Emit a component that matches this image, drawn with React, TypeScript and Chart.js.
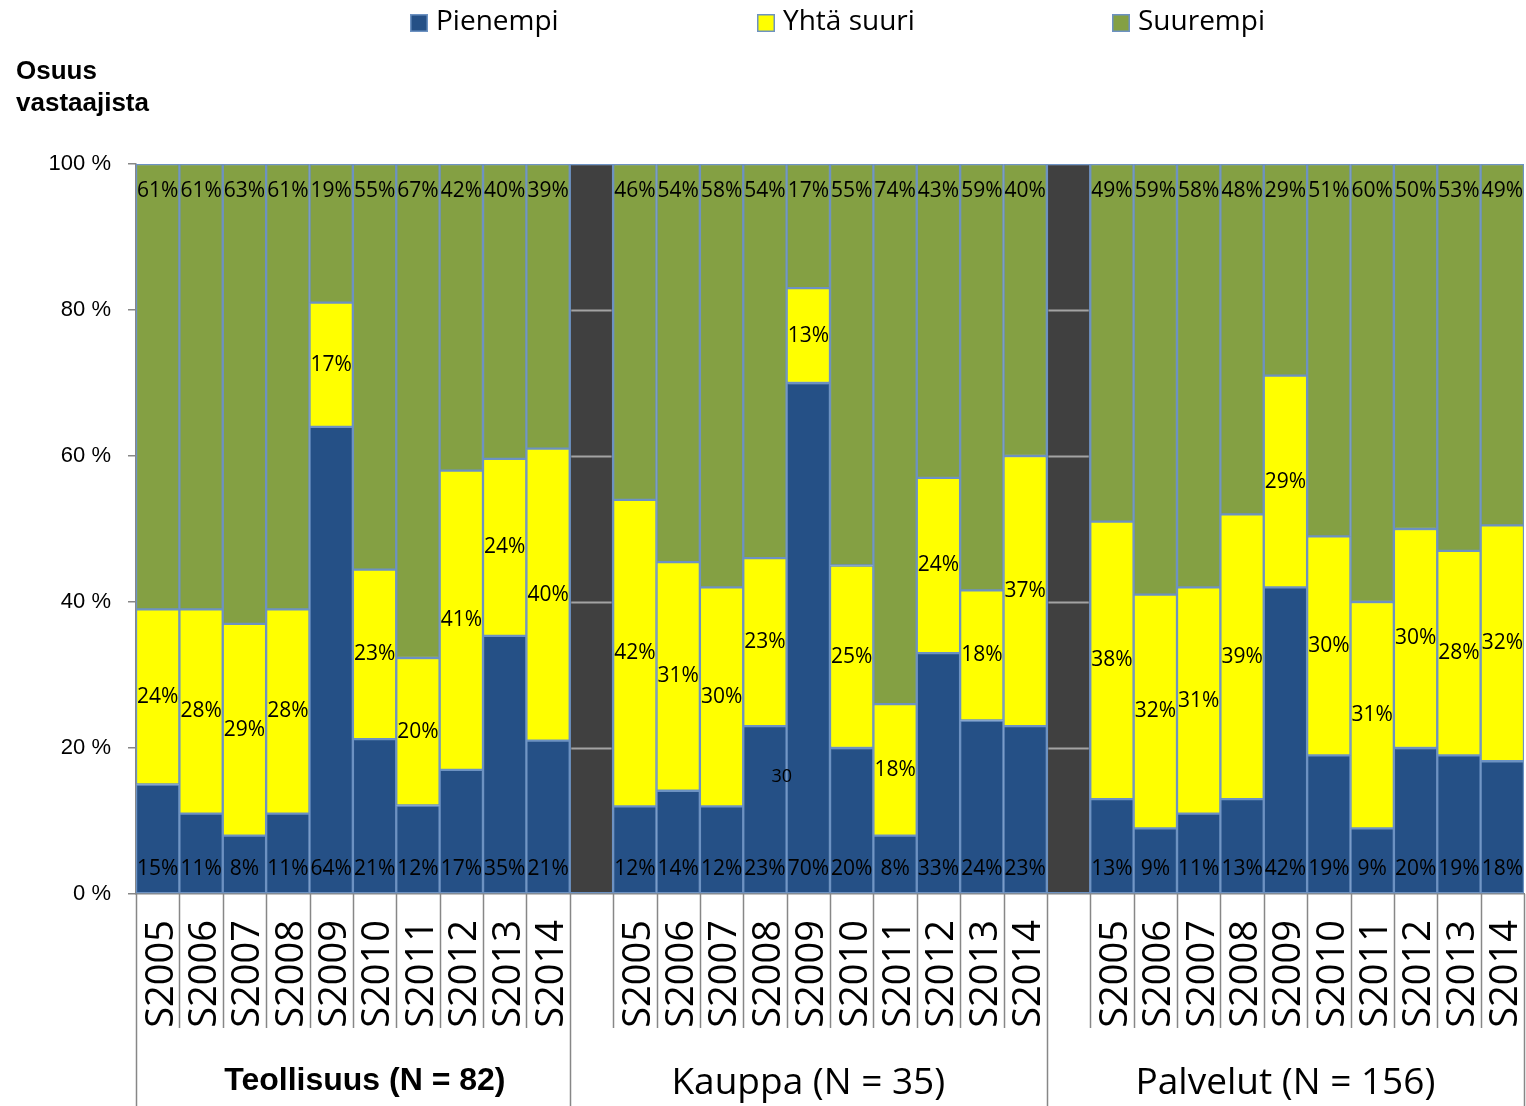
import React, { useEffect, useRef } from 'react';
import { Chart, registerables } from 'chart.js';

Chart.register(...registerables);

// ---------- data ----------
const years = ['S2005', 'S2006', 'S2007', 'S2008', 'S2009', 'S2010', 'S2011', 'S2012', 'S2013', 'S2014'];
const groups = ['Teollisuus (N = 82)', 'Kauppa (N = 35)', 'Palvelut (N = 156)'];
const seriesNames = ['Pienempi', 'Yhtä suuri', 'Suurempi'];

const teolPienempi = [15, 11, 8, 11, 64, 21, 12, 17, 35, 21];
const teolYhta = [24, 28, 29, 28, 17, 23, 20, 41, 24, 40];
const teolSuurempi = [61, 61, 63, 61, 19, 55, 67, 42, 40, 39];

const kauppaPienempi = [12, 14, 12, 23, 70, 20, 8, 33, 24, 23];
const kauppaYhta = [42, 31, 30, 23, 13, 25, 18, 24, 18, 37];
const kauppaSuurempi = [46, 54, 58, 54, 17, 55, 74, 43, 59, 40];

const palvPienempi = [13, 9, 11, 13, 42, 19, 9, 20, 19, 18];
const palvYhta = [38, 32, 31, 39, 29, 30, 31, 30, 28, 32];
const palvSuurempi = [49, 59, 58, 48, 29, 51, 60, 50, 53, 49];

const yTicks = [0, 20, 40, 60, 80, 100];
// stray label visible in the source picture (category index, value, text)
const strayLabels = [{ index: 14, value: 16, text: '30' }];

// ---------- derived ----------
const labels = [...years, '', ...years, '', ...years];
const rawP = [...teolPienempi, null, ...kauppaPienempi, null, ...palvPienempi];
const rawY = [...teolYhta, null, ...kauppaYhta, null, ...palvYhta];
const rawS = [...teolSuurempi, null, ...kauppaSuurempi, null, ...palvSuurempi];
const separatorIdx = labels.map((l, i) => (l === '' ? i : -1)).filter((i) => i >= 0);
const totals = rawP.map((v, i) => (v == null ? null : (v as number) + (rawY[i] as number) + (rawS[i] as number)));
const norm = (arr: (number | null)[]) => arr.map((v, i) => (v == null ? null : ((v as number) / (totals[i] as number)) * 100));
const sepData = labels.map((l) => (l === '' ? 100 : null));

const COLORS = ['#255086', '#FFFF00', '#84A043'];
const SEP_COLOR = '#404040';
const EDGE = '#6d92c2';
const AXIS = '#878787';

const overlay = {
  id: 'overlay',
  afterDatasetsDraw(chart: any) {
    const { ctx, scales } = chart;
    const x = scales.x;
    const y = scales.y;
    const half = (x.getPixelForValue(1) - x.getPixelForValue(0)) / 2;
    ctx.save();
    // grid lines visible on separator columns
    ctx.strokeStyle = '#a3a3a3';
    ctx.lineWidth = 2;
    separatorIdx.forEach((i) => {
      const cx = x.getPixelForValue(i);
      yTicks.forEach((v) => {
        if (v <= 0 || v >= 100) return;
        const py = Math.round(y.getPixelForValue(v)) + 0.5;
        ctx.beginPath();
        ctx.moveTo(cx - half + 1.5, py);
        ctx.lineTo(cx + half - 1.5, py);
        ctx.stroke();
      });
    });
    // data labels
    ctx.fillStyle = '#000';
    ctx.font = '21px "Open Sans"';
    ctx.textAlign = 'center';
    ctx.textBaseline = 'middle';
    const metaY = chart.getDatasetMeta(1);
    labels.forEach((l, i) => {
      if (l === '') return;
      const cx = x.getPixelForValue(i);
      ctx.fillText(rawP[i] + '%', cx, y.getPixelForValue(0) - 25);
      ctx.fillText(rawS[i] + '%', cx, y.getPixelForValue(100) + 27);
      const el = metaY.data[i];
      ctx.fillText(rawY[i] + '%', cx, (el.y + el.base) / 2);
    });
    ctx.font = '18px "Open Sans"';
    strayLabels.forEach((s) => {
      ctx.fillText(s.text, x.getPixelForValue(s.index) + half * 0.78, y.getPixelForValue(s.value));
    });
    ctx.restore();
  },
  afterDraw(chart: any) {
    const { ctx, scales, chartArea } = chart;
    const x = scales.x;
    const half = (x.getPixelForValue(1) - x.getPixelForValue(0)) / 2;
    const H = chart.height;
    ctx.save();
    // category boundary lines below the axis
    const n = labels.length;
    const groupEdges = [0, separatorIdx[0], separatorIdx[1], n];
    ctx.strokeStyle = AXIS;
    ctx.lineWidth = 1.5;
    const bx = (b: number) => (b < n ? x.getPixelForValue(b) - half : x.getPixelForValue(n - 1) + half);
    for (let b = 0; b <= n; b++) {
      const px = Math.round(bx(b)) + 0.5;
      const long = groupEdges.includes(b);
      ctx.beginPath();
      ctx.moveTo(px, chartArea.bottom);
      ctx.lineTo(px, long ? H : chartArea.bottom + 134);
      ctx.stroke();
    }
    // group labels
    ctx.fillStyle = '#000';
    ctx.textAlign = 'center';
    ctx.textBaseline = 'middle';
    groups.forEach((g, k) => {
      const c = (bx(groupEdges[k]) + bx(groupEdges[k + 1])) / 2;
      ctx.font = k === 0 ? 'bold 32px "Liberation Sans"' : '37px "Open Sans"';
      ctx.fillText(g, c + (k === 0 ? 12 : 0), k === 0 ? 1081 : 1083);
    });
    // legend
    const legendX = [410, 757, 1112];
    ctx.textAlign = 'left';
    ctx.font = '28px "Open Sans"';
    seriesNames.forEach((name, k) => {
      ctx.fillStyle = COLORS[k];
      ctx.fillRect(legendX[k], 14, 18, 18);
      ctx.strokeStyle = EDGE;
      ctx.lineWidth = 1.5;
      ctx.strokeRect(legendX[k] + 0.75, 14.75, 16.5, 16.5);
      ctx.fillStyle = '#000';
      ctx.fillText(name, legendX[k] + 26, 22);
    });
    // axis title
    ctx.font = 'bold 26px "Liberation Sans"';
    ctx.fillText('Osuus', 16, 72);
    ctx.fillText('vastaajista', 16, 104);
    ctx.restore();
  },
};

export default function App() {
  const ref = useRef<HTMLCanvasElement>(null);
  useEffect(() => {
    document.body.style.margin = '0';
    const common = { borderColor: EDGE, borderWidth: 1.5, borderSkipped: false, barPercentage: 1, categoryPercentage: 1 };
    const chart = new Chart(ref.current as HTMLCanvasElement, {
      type: 'bar',
      data: {
        labels,
        datasets: [
          { label: seriesNames[0], data: norm(rawP), backgroundColor: COLORS[0], ...common },
          { label: seriesNames[1], data: norm(rawY), backgroundColor: COLORS[1], ...common },
          { label: seriesNames[2], data: norm(rawS), backgroundColor: COLORS[2], ...common },
          { label: 'sep', data: sepData, backgroundColor: SEP_COLOR, ...common },
        ] as any,
      },
      options: {
        animation: false,
        responsive: false,
        devicePixelRatio: 1,
        layout: { padding: { top: 164, right: 2, left: 0, bottom: 0 } },
        plugins: { legend: { display: false }, tooltip: { enabled: false } },
        scales: {
          x: {
            stacked: true,
            afterFit: (s: any) => {
              s.height = 212;
              s.paddingLeft = 0;
              s.paddingRight = 0;
            },
            grid: { drawOnChartArea: false, drawTicks: false },
            border: { display: true, color: AXIS, width: 1.5 },
            ticks: {
              autoSkip: false,
              minRotation: 90,
              maxRotation: 90,
              padding: 26,
              labelOffset: 4,
              color: '#000',
              font: { family: '"Open Sans"', size: 38 },
            },
          },
          y: {
            stacked: true,
            min: 0,
            max: 100,
            afterFit: (s: any) => {
              s.width = 136;
              s.paddingTop = 0;
              s.paddingBottom = 0;
            },
            afterBuildTicks: (s: any) => {
              s.ticks = yTicks.map((v) => ({ value: v }));
            },
            grid: { drawOnChartArea: false, drawTicks: true, tickLength: 8, color: AXIS, lineWidth: 1.5 },
            border: { display: true, color: AXIS, width: 1.5 },
            ticks: {
              padding: 17,
              color: '#000',
              font: { family: '"Liberation Sans"', size: 22 },
              callback: (v: any) => v + ' %',
            },
          },
        },
      } as any,
      plugins: [overlay],
    });
    return () => chart.destroy();
  }, []);
  return (
    <div style={{ width: 1526, height: 1106, position: 'relative', background: '#fff' }}>
      <canvas ref={ref} width={1526} height={1106} style={{ display: 'block' }} />
    </div>
  );
}
